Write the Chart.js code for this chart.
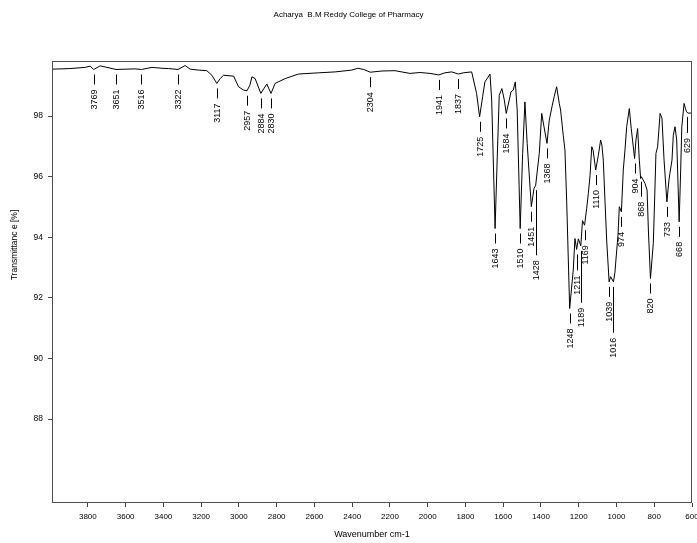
<!DOCTYPE html>
<html>
<head>
<meta charset="utf-8">
<script src="https://cdn.jsdelivr.net/npm/chart.js@4/dist/chart.umd.min.js"></script>
<style>
html,body{margin:0;padding:0;background:#fff;}
#wrap{width:697px;height:543px;position:relative;}
</style>
</head>
<body>
<div id="wrap"><canvas id="c" width="697" height="543"></canvas></div>
<script>
const chartTitle = 'Acharya  B.M Reddy College of Pharmacy';
const xTitle = 'Wavenumber cm-1';
const yTitle = 'Transmittanc e [%]';

const xTicks = [3800,3600,3400,3200,3000,2800,2600,2400,2200,2000,1800,1600,1400,1200,1000,800,600];
const yTicks = [88,90,92,94,96,98];

const wavenumbers = [
  3990,3895,3814,3788,3769,3735,3699,3651,3604,3551,3516,3461,3408,3372,3322,3285,3258,3214,3170,3143,
  3117,3099,3081,3028,3002,2975,2957,2942,2931,2914,2884,2852,2830,2808,2755,2684,2578,2490,2402,2370,
  2339,2304,2242,2173,2094,2041,1988,1941,1909,1873,1837,1812,1767,1741,1725,1709,1697,1685,1670,1661,
  1643,1632,1621,1607,1594,1584,1568,1559,1547,1536,1526,1510,1497,1485,1473,1451,1437,1428,1409,1396,
  1384,1368,1356,1340,1330,1317,1303,1296,1282,1273,1264,1248,1229,1220,1211,1202,1189,1180,1169,1158,
  1149,1140,1131,1124,1110,1096,1084,1077,1070,1061,1052,1039,1031,1016,1008,1003,992,985,974,964,
  955,946,932,922,904,897,888,879,872,868,849,838,831,820,805,798,791,782,769,759,
  748,733,722,717,706,699,690,681,668,660,654,642,635,629,621,600
];
const transmittance = [
  99.55,99.57,99.61,99.65,99.54,99.66,99.61,99.54,99.55,99.56,99.54,99.61,99.58,99.57,99.54,99.67,99.55,99.52,99.50,99.35,
  99.08,99.24,99.35,99.32,98.97,98.86,98.84,99.02,99.30,99.24,98.75,99.06,98.75,99.08,99.24,99.39,99.43,99.46,99.52,99.58,
  99.54,99.45,99.49,99.50,99.41,99.44,99.41,99.36,99.43,99.46,99.39,99.43,99.46,98.75,97.98,98.64,99.13,99.24,99.39,98.53,
  94.29,96.55,98.69,98.91,98.53,98.09,98.53,98.80,98.86,99.13,98.20,94.29,96.77,98.47,97.10,95.01,95.61,95.72,96.77,98.09,
  97.65,97.10,97.87,98.36,98.64,98.97,98.42,98.20,97.37,96.88,95.23,91.65,92.92,93.96,93.60,93.95,93.72,94.55,94.40,94.95,
  95.45,96.05,96.99,96.88,96.22,96.71,97.21,97.04,96.55,95.23,93.91,92.53,92.70,92.53,92.85,93.25,94.07,95.01,94.84,96.22,
  96.88,97.65,98.25,97.60,96.60,97.21,97.59,96.55,95.94,96.00,95.78,95.56,94.24,92.64,93.80,95.23,96.77,96.99,98.09,97.93,
  96.55,95.17,95.89,96.11,96.55,97.37,97.65,97.21,94.51,96.22,97.65,98.42,98.26,98.14,98.10,98.10
];

const peakLabels = [3769,3651,3516,3322,3117,2957,2884,2830,2304,1941,1837,1725,1643,1584,1510,1451,1428,1368,
  1248,1211,1189,1169,1110,1039,1016,974,904,868,820,733,668,629];

// extra leader length (px) for labels pushed down to avoid overlap
const leaderExtra = {1428:55, 1189:42, 1016:36, 1211:6, 868:5, 629:6};

const FONT = '"Liberation Sans", Arial, sans-serif';

const points = wavenumbers.map((w,i)=>({x:w, y:transmittance[i]}));

const overlay = {
  id:'overlay',
  afterDraw(chart){
    const {ctx, chartArea:a, scales} = chart;
    const xs = scales.x, ys = scales.y;
    ctx.save();
    ctx.strokeStyle = '#505050';
    ctx.lineWidth = 1;
    ctx.strokeRect(a.left+0.5, a.top+0.5, a.right-a.left-1, a.bottom-a.top-1);

    ctx.fillStyle = '#000';
    ctx.textAlign = 'center';
    ctx.textBaseline = 'middle';
    ctx.font = '8px ' + FONT;
    ctx.fillText(chartTitle, chart.width/2, 15);
    ctx.font = '9px ' + FONT;
    ctx.fillText(xTitle, (a.left+a.right)/2, 535);
    ctx.save();
    ctx.translate(15, 245);
    ctx.rotate(-Math.PI/2);
    ctx.font = '8.5px ' + FONT;
    ctx.fillText(yTitle, 0, 0);
    ctx.restore();

    // peak labels
    ctx.font = '9px ' + FONT;
    ctx.textAlign = 'right';
    ctx.textBaseline = 'middle';
    ctx.strokeStyle = '#000';
    peakLabels.forEach(w=>{
      const idx = wavenumbers.indexOf(w);
      const t = transmittance[idx];
      const px = Math.round(xs.getPixelForValue(w)) + 0.5;
      const py = ys.getPixelForValue(t);
      const e = leaderExtra[w] || 0;
      ctx.beginPath();
      ctx.moveTo(px, py+5);
      ctx.lineTo(px, py+15+e);
      ctx.stroke();
      ctx.save();
      ctx.translate(px, py+20+e);
      ctx.rotate(-Math.PI/2);
      ctx.fillText(String(w), 0, 0);
      ctx.restore();
    });
    ctx.restore();
  }
};

new Chart(document.getElementById('c'), {
  type:'line',
  data:{ datasets:[{ data:points, borderColor:'#000', borderWidth:1, pointRadius:0, tension:0, fill:false }] },
  options:{
    responsive:false, animation:false, devicePixelRatio:1,
    layout:{ padding:{ left:0, right:5, top:61, bottom:0 } },
    plugins:{ legend:{display:false}, tooltip:{enabled:false}, title:{display:false} },
    scales:{
      x:{
        type:'linear', reverse:true, min:600, max:3990,
        afterBuildTicks:s=>{ s.ticks = xTicks.map(v=>({value:v})); },
        afterFit:s=>{ s.height = 40; s.paddingLeft = 0; s.paddingRight = 0; },
        ticks:{ autoSkip:false, maxRotation:0, padding:5, color:'#000', font:{family:FONT, size:8}, callback:v=>String(v) },
        grid:{ drawOnChartArea:false, tickLength:4, color:'#444' },
        border:{ display:false }
      },
      y:{
        type:'linear', min:85.23, max:99.82,
        afterBuildTicks:s=>{ s.ticks = yTicks.map(v=>({value:v})); },
        afterFit:s=>{ s.width = 52; s.paddingTop = 0; s.paddingBottom = 0; },
        ticks:{ padding:5, color:'#000', font:{family:FONT, size:8.5}, callback:v=>String(v) },
        grid:{ drawOnChartArea:false, tickLength:4, color:'#444' },
        border:{ display:false }
      }
    }
  },
  plugins:[overlay]
});
</script>
</body>
</html>
